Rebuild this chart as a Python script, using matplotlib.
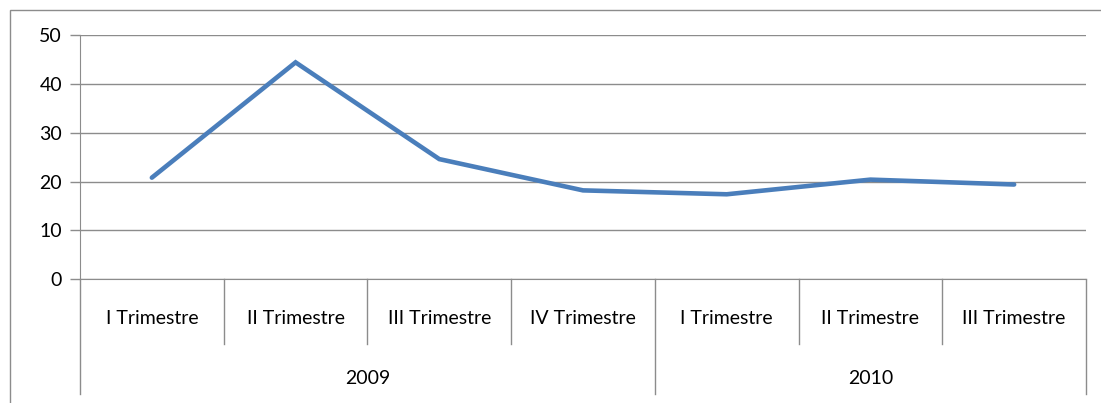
import matplotlib
matplotlib.use("Agg")
import matplotlib.pyplot as plt
from matplotlib.patches import Rectangle
from matplotlib.lines import Line2D

quarters = ["I Trimestre", "II Trimestre", "III Trimestre", "IV Trimestre",
            "I Trimestre", "II Trimestre", "III Trimestre"]
years = ["2009", "2010"]
year_counts = [4, 3]
values = [20.8, 44.4, 24.6, 18.2, 17.4, 20.4, 19.4]
yticks = [0, 10, 20, 30, 40, 50]

W, H = 1101, 403
fig = plt.figure(figsize=(W / 100, H / 100), dpi=100)
plt.rcParams['font.family'] = ['Lato', 'DejaVu Sans']
FS = 14

# outer chart border (cropped on right/bottom)
fig.add_artist(Rectangle((10 / W, -0.1), 1.2, (H - 10) / H + 0.1, transform=fig.transFigure,
                         fill=False, edgecolor="#8c8c8c", linewidth=1.0))

x0, x1 = 80, 1086
ytop, ybot = 35, 279.3
ax = fig.add_axes([x0 / W, (H - ybot) / H, (x1 - x0) / W, (ybot - ytop) / H])

n = len(values)
xs = list(range(n))
ax.plot(xs, values, color="#4A7EBB", linewidth=3.3, solid_capstyle="round", solid_joinstyle="miter", zorder=3)
ax.set_xlim(-0.5, n - 0.5)
ax.set_ylim(0, 50)
ax.set_yticks(yticks)
ax.set_yticklabels([str(v) for v in yticks], fontsize=FS)
ax.yaxis.grid(True, color="#8c8c8c", linewidth=1.0)
ax.set_axisbelow(True)
ax.tick_params(axis="y", length=7, color="#8c8c8c", width=1.0, pad=6)
ax.set_xticks([])
for s in ["top", "right"]:
    ax.spines[s].set_visible(False)
ax.spines["left"].set_color("#8c8c8c")
ax.spines["bottom"].set_color("#8c8c8c")

# category axis: quarter labels and separators
trans = ax.get_xaxis_transform()
axh_px = ybot - ytop
def yfrac(ypix):
    return (ybot - ypix) / axh_px

for i, q in enumerate(quarters):
    ax.text(i, yfrac(318), q, transform=trans, ha="center", va="center", fontsize=FS, clip_on=False)

boundaries = [i - 0.5 for i in range(n + 1)]
year_edges = [-0.5]
acc = -0.5
for c in year_counts:
    acc += c
    year_edges.append(acc)

for b in boundaries:
    if any(abs(b - e) < 1e-9 for e in year_edges):
        continue
    ax.add_line(Line2D([b, b], [0, yfrac(344)], transform=trans, color="#8c8c8c", linewidth=1.0, clip_on=False))
for e in year_edges:
    ax.add_line(Line2D([e, e], [0, yfrac(394)], transform=trans, color="#8c8c8c", linewidth=1.0, clip_on=False))

start = -0.5
for y, c in zip(years, year_counts):
    ax.text(start + c / 2, yfrac(378), y, transform=trans, ha="center", va="center", fontsize=FS, clip_on=False)
    start += c

fig.savefig("out.png", dpi=100)
